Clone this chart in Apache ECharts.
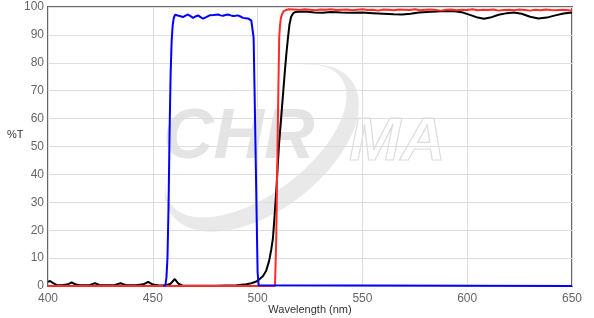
<!DOCTYPE html>
<html>
<head>
<meta charset="utf-8">
<script src="https://cdn.jsdelivr.net/npm/echarts@6/dist/echarts.min.js"></script>
<style>
html,body{margin:0;padding:0;background:#fff;}
#chart{width:594px;height:318px;}
</style>
</head>
<body>
<div id="chart"></div>
<script>
// ---- data ----
var xTicks = [400, 450, 500, 550, 600, 650];
var yTicks = [0, 10, 20, 30, 40, 50, 60, 70, 80, 90, 100];

var blackX = [400, 401, 402.5, 404, 407, 409.5, 411.3, 413, 415, 420, 422.4, 424.5, 428, 432, 434.6, 437, 442, 445.5, 447.8, 450, 453, 456, 458.5, 460.5, 462.3, 464, 470, 480, 485, 490, 494.6, 497, 499.4, 501, 502.5, 504.1, 505.5, 506.5, 507.3, 508.1, 508.9, 509.6, 510.2, 511.1, 512, 512.9, 513.7, 514.5, 515.2, 516, 517, 518, 520, 523, 527, 531, 535, 540, 545, 550, 555, 560, 565, 569, 573, 577, 583, 590, 594, 598, 602, 605, 608, 611, 615, 619, 622, 626, 630, 634, 638, 642, 646, 650];
var blackY = [1.5, 1.8, 1.0, 0.4, 0.3, 0.6, 1.3, 0.6, 0.3, 0.4, 1.0, 0.4, 0.3, 0.4, 1.0, 0.4, 0.3, 0.6, 1.5, 0.5, 0.2, 0.2, 0.8, 2.5, 0.8, 0.2, 0.1, 0.1, 0.2, 0.3, 0.6, 1.0, 1.6, 2.5, 3.5, 5.5, 9, 13, 17, 25, 34, 43, 50.6, 59, 67.5, 76, 83, 89, 93.7, 96.5, 97.8, 98.2, 98.3, 98.4, 98.0, 97.9, 98.2, 98.0, 97.9, 98.0, 97.8, 97.6, 97.4, 97.3, 97.6, 98.0, 98.3, 98.6, 98.5, 98.0, 97.0, 96.2, 95.8, 96.2, 97.2, 97.8, 98.0, 97.6, 96.5, 95.9, 96.2, 97.0, 97.7, 98.0];

var redX = [400, 508.3, 508.6, 508.9, 509.2, 509.5, 509.9, 510.3, 510.7, 511.1, 511.7, 512.4, 513.5, 515,
  517.5, 520, 522.5, 525, 527.5, 530, 532.5, 535, 537.5, 540,
  542.5, 545, 547.5, 550, 552.5, 555, 557.5, 560, 562.5, 565,
  567.5, 570, 572.5, 575, 577.5, 580, 582.5, 585, 587.5, 590,
  592.5, 595, 597.5, 600, 602.5, 605, 607.5, 610, 612.5, 615,
  617.5, 620, 622.5, 625, 627.5, 630, 632.5, 635, 637.5, 640,
  642.5, 645, 647.5, 650];
var redY = [0, 0, 0.5, 17, 33, 50, 70, 89, 93.5, 96, 97.5, 98.5, 98.9, 99.2,
  99.1, 98.9, 99.2, 99.0, 98.8, 99.1, 99.0, 99.2, 98.9, 99.0,
  99.1, 98.8, 99.0, 99.2, 98.9, 99.0, 98.7, 99.1, 99.0, 98.8,
  99.1, 99.0, 98.9, 99.2, 98.8, 99.0, 99.1, 98.9, 98.7, 99.0,
  99.1, 98.8, 99.0, 98.9, 99.2, 98.8, 99.0, 98.9, 99.1, 98.7,
  98.9, 99.0, 98.8, 99.1, 98.9, 98.7, 99.0, 98.8, 99.1, 98.9,
  98.8, 99.0, 98.9, 98.7];

var blueX = [455, 456, 456.5, 457, 457.5, 458, 458.5, 459, 459.5, 460, 460.6, 461.3, 462.8, 464.4, 465.6, 466.8, 468, 469.2, 470.4, 471.6, 472.8, 474, 475.5, 477.1, 479, 481.1, 482.3, 483.5, 484.7, 485.9, 487.1, 488.3, 489.5, 490.6, 491.8, 493, 494.2, 495.4, 496.2, 497, 497.5, 498.1, 498.5, 499, 499.5, 500, 500.5, 501, 650];
var blueY = [0, 0.3, 3, 10, 28, 55, 76, 88, 93.5, 96, 97.2, 97.4, 96.8, 96.4, 96.9, 97.3, 96.7, 96.1, 96.6, 97.0, 96.4, 95.8, 96.4, 97.0, 97.1, 97.3, 97.0, 96.9, 97.1, 97.3, 97.0, 96.8, 96.9, 97.0, 96.6, 96.1, 96.0, 95.9, 95.5, 95.1, 94.5, 89, 72, 50, 27, 5, 0.3, 0, 0];

var xName = 'Wavelength (nm)';
var yName = '%T';

function zip(xs, ys) { return xs.map(function (x, i) { return [x, ys[i]]; }); }

var FONT = 'Liberation Sans, Arial, sans-serif';
var chart = echarts.init(document.getElementById('chart'), null, {renderer: 'canvas'});
chart.setOption({
  animation: false,
  backgroundColor: '#fff',
  grid: {left: 48, right: 22, top: 7, bottom: 32, show: true, borderColor: '#666', borderWidth: 2,
    backgroundColor: 'transparent', containLabel: false, outerBoundsMode: 'none'},
  xAxis: {
    type: 'value', min: xTicks[0], max: xTicks[xTicks.length - 1], interval: 50,
    axisLine: {show: false}, axisTick: {show: false},
    axisLabel: {color: '#666', fontSize: 12, fontFamily: FONT, margin: 7},
    splitLine: {show: true, lineStyle: {color: '#dedede', width: 1}}
  },
  yAxis: {
    type: 'value', min: yTicks[0], max: yTicks[yTicks.length - 1], interval: 10,
    axisLine: {show: false}, axisTick: {show: false},
    axisLabel: {color: '#666', fontSize: 12, fontFamily: FONT, margin: 4},
    splitLine: {show: true, lineStyle: {color: '#dedede', width: 1}}
  },
  graphic: [
    {type: 'ellipse', x: 262, y: 148, rotation: 37 * Math.PI / 180, z: -10, silent: true,
      shape: {cx: 0, cy: 0, rx: 112, ry: 62}, style: {fill: '#e9e9e9'}},
    {type: 'ellipse', x: 256, y: 141, rotation: 37 * Math.PI / 180, z: -9, silent: true,
      shape: {cx: 0, cy: 0, rx: 106, ry: 53}, style: {fill: '#ffffff'}},
    {type: 'text', x: 163, y: 174, z: -8, silent: true,
      style: {text: 'CHR', fill: '#e4e4e4', font: 'italic bold 70px ' + FONT, verticalAlign: 'bottom'}},
    {type: 'text', x: 349, y: 174, z: -8, silent: true,
      style: {text: 'MA', fill: 'rgba(255,255,255,0)', stroke: '#dcdcdc', lineWidth: 1.2, font: 'italic bold 62px ' + FONT, verticalAlign: 'bottom'}},
    {type: 'text', x: 7, y: 129, silent: true,
      style: {text: yName, fill: '#333', font: '11px ' + FONT}},
    {type: 'text', x: 310, y: 310, silent: true,
      style: {text: xName, fill: '#333', font: '11px ' + FONT, align: 'center', verticalAlign: 'middle'}}
  ],
  series: [
    {type: 'line', data: zip(blackX, blackY), showSymbol: false, lineStyle: {color: '#000', width: 2}, itemStyle: {color: '#000'}},
    {type: 'line', data: zip(redX, redY), showSymbol: false, lineStyle: {color: '#ff2a2a', width: 2}, itemStyle: {color: '#ff2a2a'}},
    {type: 'line', data: zip(blueX, blueY), showSymbol: false, lineStyle: {color: '#0000ff', width: 2}, itemStyle: {color: '#0000ff'}}
  ]
});
</script>
</body>
</html>
